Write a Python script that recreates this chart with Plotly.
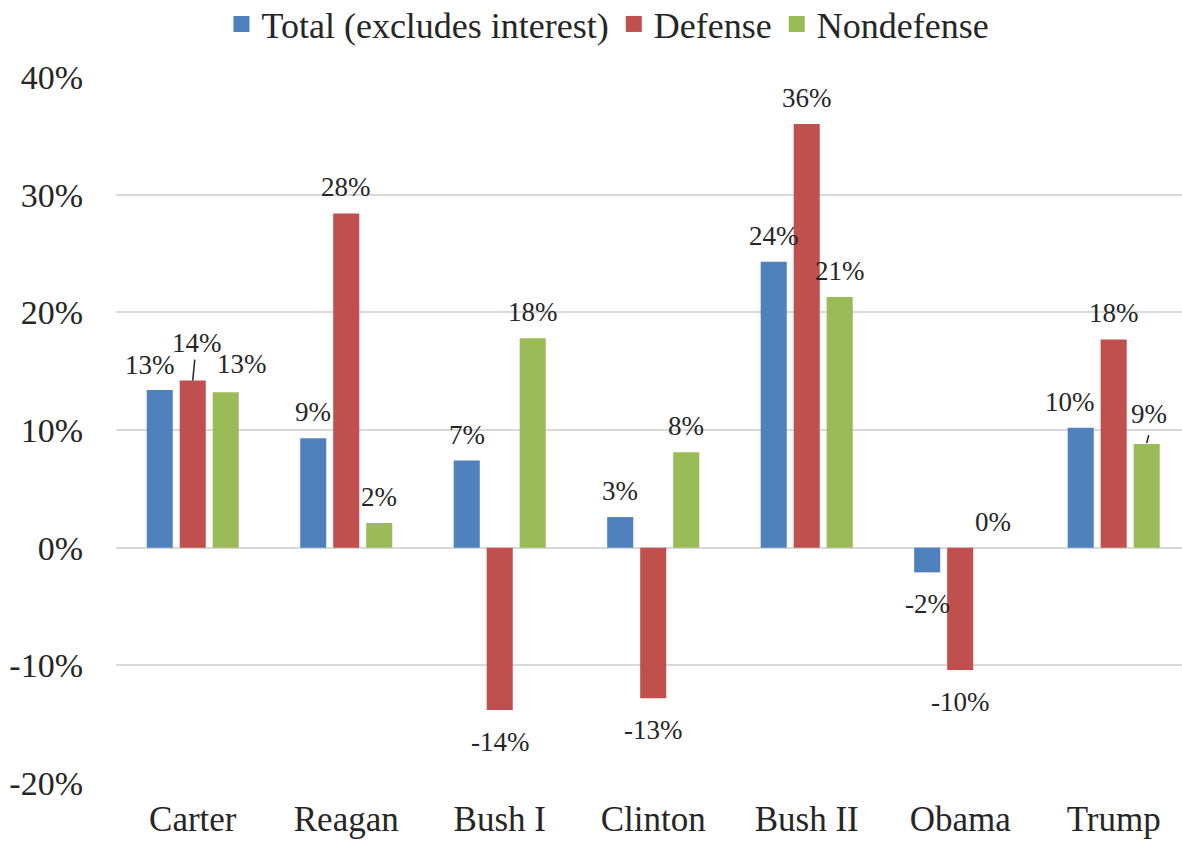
import plotly.graph_objects as go

presidents = ["Carter", "Reagan", "Bush I", "Clinton", "Bush II", "Obama", "Trump"]
series_names = ["Total (excludes interest)", "Defense", "Nondefense"]
total = [13.4, 9.3, 7.4, 2.6, 24.3, -2.1, 10.2]
defense = [14.2, 28.4, -13.8, -12.8, 36.0, -10.4, 17.7]
nondefense = [13.2, 2.1, 17.8, 8.1, 21.3, 0.0, 8.8]
y_ticks = [-20, -10, 0, 10, 20, 30, 40]

colors = ["#4F81BD", "#C0504D", "#9BBB59"]
FONT = "Liberation Serif"

series = [total, defense, nondefense]

fig = go.Figure()
for name, vals, col in zip(series_names, series, colors):
    fig.add_trace(go.Bar(x=presidents, y=vals, name=name, marker_color=col,
                         marker_line_width=0, hoverinfo="skip", showlegend=False,
                         legendgroup=name))
# legend entries with larger square swatches (Excel style)
for name, col in zip(series_names, colors):
    fig.add_trace(go.Scatter(x=[presidents[0]], y=[None], mode="markers", name=name,
                             legendgroup=name,
                             marker=dict(symbol="square", size=16, color=col),
                             hoverinfo="skip"))

# label placement: group offsets in pixels and manual tweaks (Excel-style dragged labels)
group_off = [-33, 0, 33]
tweak = {(0, 0): (-10, 25), (0, 1): (4, 38), (0, 2): (16, 28),
         (6, 0): (-11, 26), (6, 2): (2, 30)}
for s, vals in enumerate(series):
    for i, v in enumerate(vals):
        dx, dy = tweak.get((i, s), (0, 26 if v >= 0 else -32))
        fig.add_annotation(x=presidents[i], y=v, text=f"{round(v):.0f}%",
                           showarrow=False, xshift=group_off[s] + dx, yshift=dy,
                           font=dict(family=FONT, size=27, color="#262626"),
                           xanchor="center", yanchor="middle")

# leader lines for dragged labels
leaders = [(0, 1, 0, 2, 0, 21), (6, 2, 0, 2, 1, 9)]
for i, s, x0p, x1p, y0p, y1p in leaders:
    v = series[s][i]
    fig.add_shape(type="line", xref="x", yref="y",
                  xsizemode="pixel", xanchor=i + (group_off[s] / 153.5),
                  ysizemode="pixel", yanchor=v,
                  x0=x0p, x1=x1p, y0=y0p, y1=y1p,
                  line=dict(color="#262626", width=1.5))

fig.update_layout(
    width=1182, height=842,
    margin=dict(l=116, r=0, t=77, b=59, autoexpand=False),
    paper_bgcolor="white", plot_bgcolor="white",
    barmode="group", bargap=0.355, bargroupgap=0.21,
    font=dict(family=FONT, color="#262626"),
    showlegend=True,
    legend=dict(orientation="h", x=0.4615, xanchor="center", y=1.075, yanchor="middle",
                font=dict(family=FONT, size=36, color="#262626"),
                itemclick=False, itemdoubleclick=False, traceorder="normal"),
    xaxis=dict(range=[-0.5, 6.445], showgrid=False, showline=False, zeroline=False,
               ticks="", tickfont=dict(family=FONT, size=35, color="#262626"),
               ticklabelstandoff=12),
    yaxis=dict(range=[-20, 40], tickvals=y_ticks, ticktext=[f"{t}%" for t in y_ticks],
               showgrid=True, gridcolor="#D9D9D9", gridwidth=1.5,
               zeroline=True, zerolinecolor="#D9D9D9", zerolinewidth=1.5,
               showline=False, ticks="", ticklabelstandoff=32,
               tickfont=dict(family=FONT, size=34, color="#262626")),
)

fig.write_html("out.html")
